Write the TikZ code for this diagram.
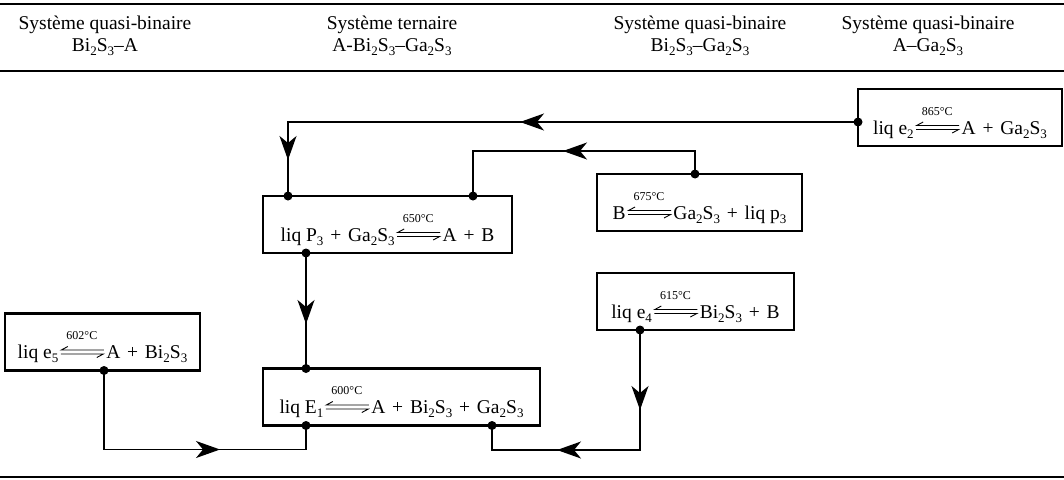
\documentclass[tikz,border=0pt]{standalone}
\usepackage{fontspec}
\setmainfont{Liberation Serif}
\usetikzlibrary{arrows.meta,decorations.markings,calc}

\newcommand\sbs[1]{\raisebox{-0.22em}{\fontsize{13}{13}\selectfont #1}}
\newcommand\pls{\hspace{0.35em}+\hspace{0.35em}}
\newcommand\eqar[1]{\hspace{2pt}\rlap{\raisebox{19pt}{\makebox[43pt]{\fontsize{12}{12}\selectfont #1}}}%
  \tikz[baseline=0pt,x=1pt,y=1pt,line width=0.9pt]{%
  \draw (43,8.5) -- (0.5,8.5) -- (7,12);
  \draw (0,4.5) -- (42.5,4.5) -- (36,1);}\hspace{2pt}}

\begin{document}
\begin{tikzpicture}[x=1pt,y=-1pt,
  box/.style={draw,line width=2.6pt,inner sep=0pt,outer sep=0pt,minimum height=57pt,
    text height=33pt,text depth=0pt,font=\fontsize{19.5}{22}\selectfont},
  conn/.style={line width=1.4pt},
  hdr/.style={align=center,inner sep=0pt,font=\fontsize{19.5}{22}\selectfont},
  rulestyle/.style={line width=1.6pt},
  arr/.style={postaction={decorate,decoration={markings,
    mark=at position #1 with {\arrow{Stealth[length=24pt,width=17pt,inset=7pt]}}}}}]
\useasboundingbox (0,0) rectangle (1064,479);

% rules
\draw[rulestyle] (0,4) -- (1064,4);
\draw[rulestyle] (0,71) -- (1064,71);
\draw[rulestyle,line width=2pt] (0,477) -- (1064,477);

% headers
\node[hdr] (h1) at (105,36) {Système quasi-binaire\\Bi\sbs{2}S\sbs{3}–A};
\node[hdr] (h2) at (392,36) {Système ternaire\\A-Bi\sbs{2}S\sbs{3}–Ga\sbs{2}S\sbs{3}};
\node[hdr] (h3) at (700,36) {Système quasi-binaire\\Bi\sbs{2}S\sbs{3}–Ga\sbs{2}S\sbs{3}};
\node[hdr] (h4) at (928,36) {Système quasi-binaire\\A–Ga\sbs{2}S\sbs{3}};

% boxes
\node[box,minimum width=204pt] (e2) at (960,117.5) {liq e\sbs{2}\eqar{865°C}A\pls Ga\sbs{2}S\sbs{3}};
\node[box,minimum width=205pt] (pB) at (699.5,202.5) {B\eqar{675°C}Ga\sbs{2}S\sbs{3}\pls liq p\sbs{3}};
\node[box,minimum width=249pt] (P3) at (387.5,224.5) {liq P\sbs{3}\pls Ga\sbs{2}S\sbs{3}\eqar{650°C}A\pls B};
\node[box,minimum width=197pt] (e4) at (695.5,301.5) {liq e\sbs{4}\eqar{615°C}Bi\sbs{2}S\sbs{3}\pls B};
\node[box,minimum width=195pt] (e5) at (102.5,342) {liq e\sbs{5}\eqar{602°C}A\pls Bi\sbs{2}S\sbs{3}};
\node[box,minimum width=277pt] (E1) at (401.5,397) {liq E\sbs{1}\eqar{600°C}A\pls Bi\sbs{2}S\sbs{3}\pls Ga\sbs{2}S\sbs{3}};

% connection points
\coordinate (e2a) at ([yshift=-4.5pt]e2.west);
\coordinate (p3a) at ([xshift=-99.5pt]P3.north);
\coordinate (p3b) at ([xshift=85.5pt]P3.north);
\coordinate (p3c) at ([xshift=-81.5pt]P3.south);
\coordinate (pBa) at ([xshift=-4.5pt]pB.north);
\coordinate (e1a) at ([xshift=-95.5pt]E1.north);
\coordinate (e1b) at ([xshift=-95.5pt]E1.south);
\coordinate (e1c) at ([xshift=90.5pt]E1.south);
\coordinate (e4a) at ([xshift=-55.5pt]e4.south);
\coordinate (e5a) at ([xshift=1.5pt]e5.south);

% connectors
\draw[conn,arr=338pt,arr=608pt] (e2a) -| (p3a);
\draw[conn,arr=155pt] (pBa) -- ++(0,-23) -| (p3b);
\draw[conn,arr=71pt] (p3c) -- (e1a);
\draw[conn,arr=195pt] (e5a) -- ++(0,79) -| (e1b);
\draw[conn,arr=80pt,arr=203pt] (e4a) -- ++(0,120) -| (e1c);

% dots
\foreach \c in {e2a,p3a,p3b,p3c,pBa,e1a,e1b,e1c,e4a,e5a} \fill (\c) circle (4.5pt);
\end{tikzpicture}
\end{document}
